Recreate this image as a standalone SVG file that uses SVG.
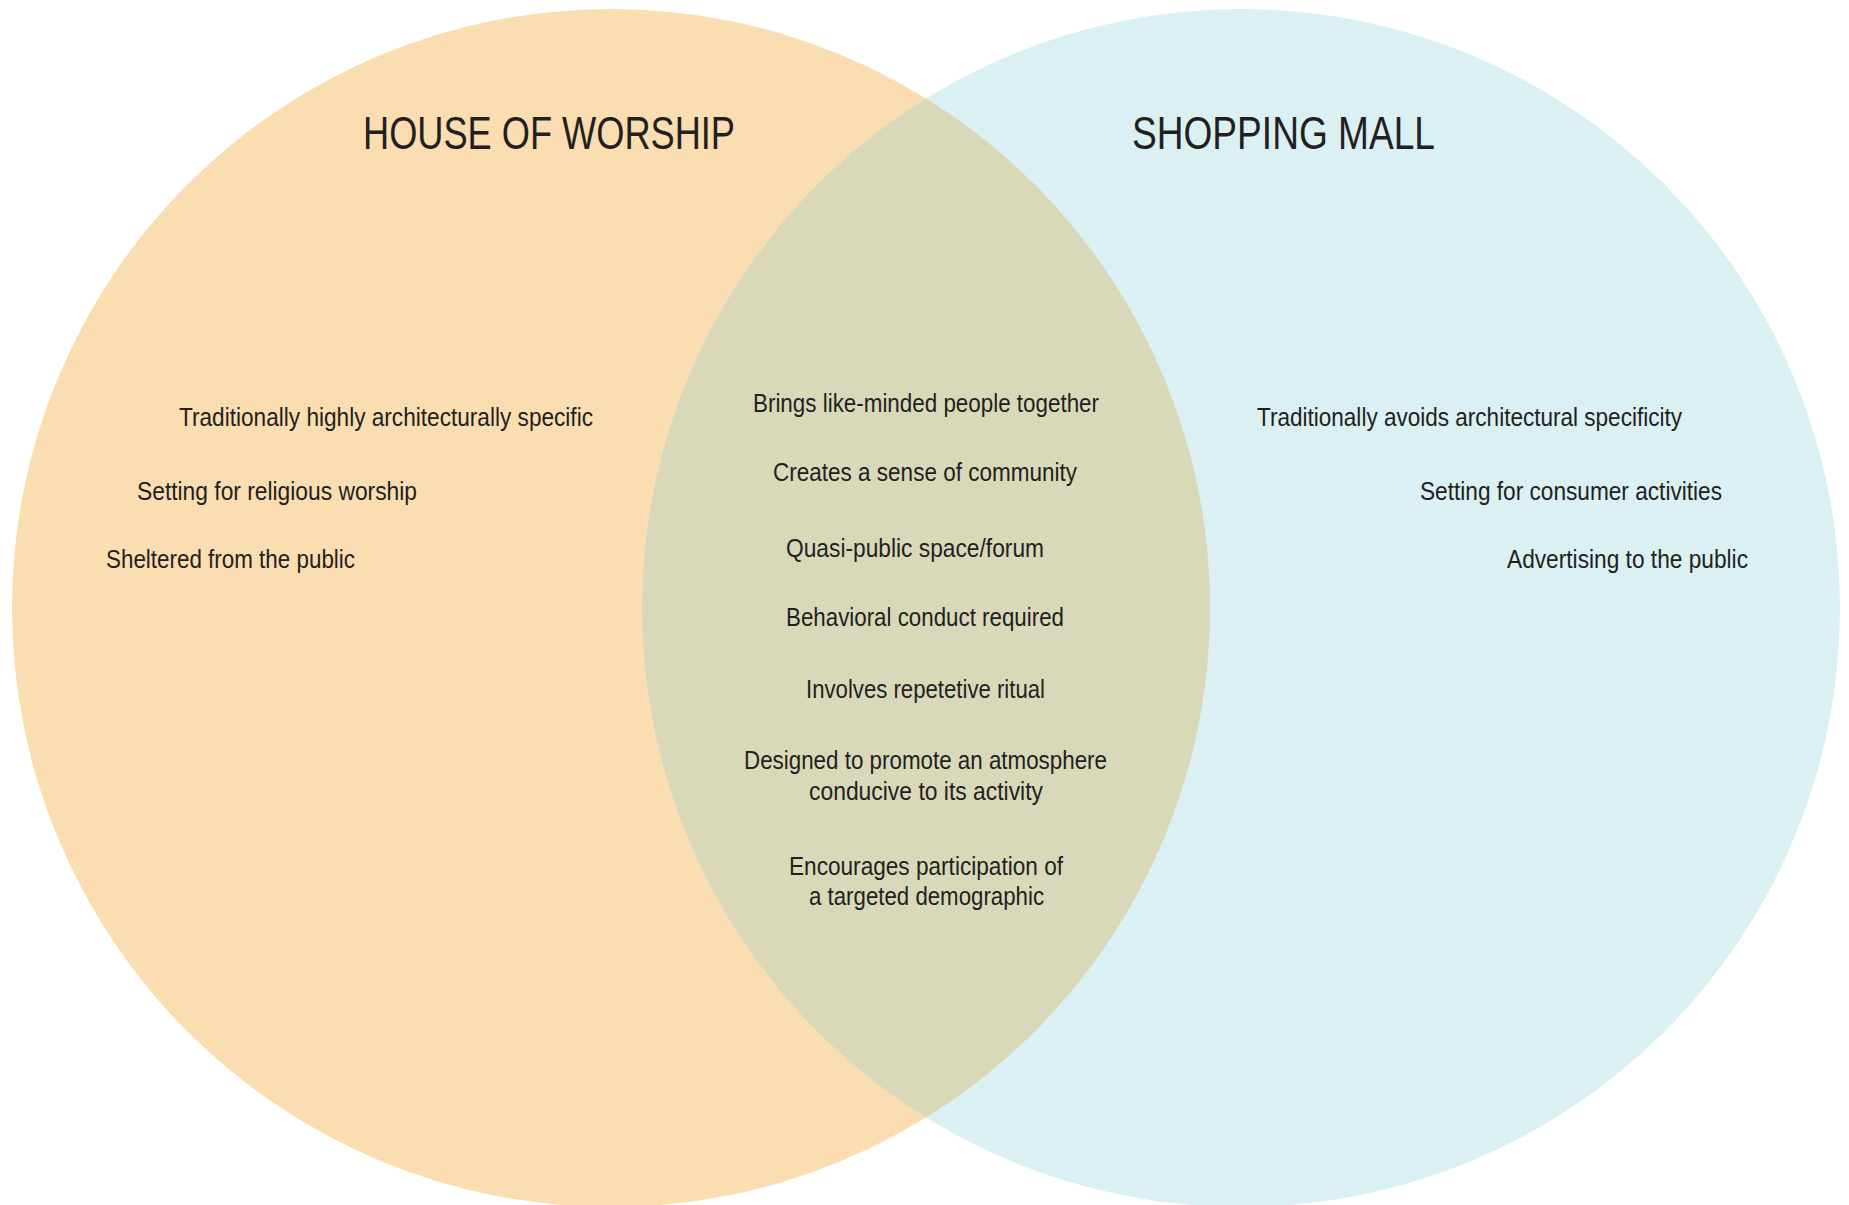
<svg xmlns="http://www.w3.org/2000/svg" width="1849" height="1205" viewBox="0 0 1849 1205">
  <style>
    .set-a { fill: #FADDB0; }
    .set-b { fill: #DAF0F3; }
    .both { fill: #D9D9B9; }
    text { font-family: "Liberation Sans", Arial, sans-serif; fill: #231F20; }
    .title { font-size: 47px; }
    .item { font-size: 26px; }
  </style>
  <rect width="1849" height="1205" fill="#FFFFFF"/>

  <!-- House of worship set -->
  <g id="house-of-worship">
    <circle class="set-a" cx="611" cy="608" r="599"/>
    <text class="title" x="363" y="149" textLength="372" lengthAdjust="spacingAndGlyphs">HOUSE OF WORSHIP</text>
    <text class="item" x="179" y="426" textLength="414" lengthAdjust="spacingAndGlyphs">Traditionally highly architecturally specific</text>
    <text class="item" x="137" y="500" textLength="280" lengthAdjust="spacingAndGlyphs">Setting for religious worship</text>
    <text class="item" x="106" y="568" textLength="249" lengthAdjust="spacingAndGlyphs">Sheltered from the public</text>
  </g>

  <!-- Shopping mall set -->
  <g id="shopping-mall">
    <circle class="set-b" cx="1241" cy="608" r="599"/>
    <text class="title" x="1132" y="149" textLength="303" lengthAdjust="spacingAndGlyphs">SHOPPING MALL</text>
    <text class="item" x="1257" y="426" textLength="425" lengthAdjust="spacingAndGlyphs">Traditionally avoids architectural specificity</text>
    <text class="item" x="1420" y="500" textLength="302" lengthAdjust="spacingAndGlyphs">Setting for consumer activities</text>
    <text class="item" x="1507" y="568" textLength="241" lengthAdjust="spacingAndGlyphs">Advertising to the public</text>
  </g>

  <!-- Shared traits (lens where both sets overlap) -->
  <g id="shared">
    <path class="both" d="M926,98.5 A599,599 0 0,1 926,1117.5 A599,599 0 0,1 926,98.5 Z"/>
    <text class="item" x="753" y="412" textLength="346" lengthAdjust="spacingAndGlyphs">Brings like-minded people together</text>
    <text class="item" x="773" y="481" textLength="304" lengthAdjust="spacingAndGlyphs">Creates a sense of community</text>
    <text class="item" x="786" y="557" textLength="258" lengthAdjust="spacingAndGlyphs">Quasi-public space/forum</text>
    <text class="item" x="786" y="626" textLength="278" lengthAdjust="spacingAndGlyphs">Behavioral conduct required</text>
    <text class="item" x="806" y="698" textLength="239" lengthAdjust="spacingAndGlyphs">Involves repetetive ritual</text>
    <text class="item" x="744" y="769" textLength="363" lengthAdjust="spacingAndGlyphs">Designed to promote an atmosphere</text>
    <text class="item" x="809" y="800" textLength="234" lengthAdjust="spacingAndGlyphs">conducive to its activity</text>
    <text class="item" x="789" y="875" textLength="274" lengthAdjust="spacingAndGlyphs">Encourages participation of</text>
    <text class="item" x="809" y="905" textLength="235" lengthAdjust="spacingAndGlyphs">a targeted demographic</text>
  </g>
</svg>
